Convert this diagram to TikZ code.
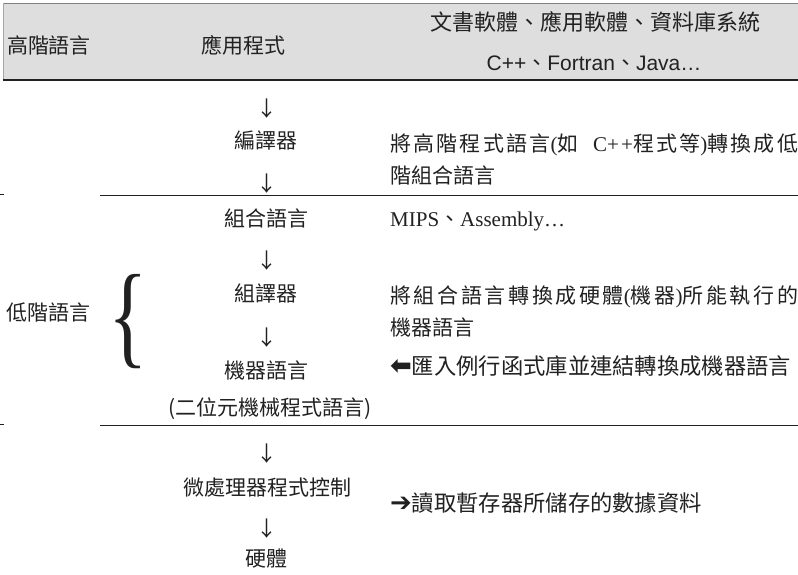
\documentclass[tikz,border=0pt]{standalone}
\usepackage{fontspec}
\setmainfont{Noto Sans CJK TC}
\newfontfamily\tms{Liberation Serif}
\newfontfamily\hlv{Liberation Sans}
\newfontfamily\djv{DejaVu Sans}
\XeTeXlinebreaklocale "zh"
\XeTeXlinebreakskip=0pt plus 3pt
\definecolor{hdr}{gray}{0.87}
\definecolor{ink}{gray}{0.13}
\tikzset{
  txt/.style={anchor=base,font=\fontsize{21}{32}\selectfont,text=ink,inner sep=0pt},
  note/.style={txt,anchor=base west,text width=408pt,align=justify},
  lead/.style={txt,anchor=base west,font=\fontsize{22.3}{32}\selectfont},
  rule/.style={draw=ink,line width=1pt}
}
\newcommand{\dn}{↓}
\newcommand{\bigarr}[1]{{\djv\bfseries\fontsize{26}{32}\selectfont #1}}

\begin{document}
\begin{tikzpicture}[x=1pt,y=-1pt]
\useasboundingbox (0,0) rectangle (798,574);
% header band
\fill[hdr] (3,3) rectangle (798,80);
\draw[gray,line width=0.8pt] (3,3) -- (798,3);
\draw[gray!70,line width=0.6pt] (3,3) -- (3,80);
\draw[rule,line width=1.3pt] (3,80) -- (798,80);
\node[txt] (hi) at (49,53) {高階語言};
\node[txt] (app) at (243,53) {應用程式};
\node[txt,font=\fontsize{22}{32}\selectfont] (soft) at (595,30) {文書軟體、應用軟體、資料庫系統};
\node[txt] (lang) at (594,70) {{\hlv C++}、{\hlv Fortran}、{\hlv Java…}};
% separators
\draw[rule] (100,195) -- (798,195); \draw[rule] (0,194) -- (4,194);
\draw[rule] (100,425) -- (798,425); \draw[rule] (0,424) -- (4,424);
% middle column
\node[txt] (d1) at (267,116) {\dn};
\node[txt] (comp) at (266,148) {編譯器};
\node[txt] (d2) at (267,191) {\dn};
\node[txt] (asm) at (266,226) {組合語言};
\node[txt] (d3) at (267,268) {\dn};
\node[txt] (asmr) at (266,301) {組譯器};
\node[txt] (d4) at (267,345) {\dn};
\node[txt] (mach) at (266,378) {機器語言};
\node[txt] (bin) at (270,415) {(二位元機械程式語言)};
\node[txt] (d5) at (267,461) {\dn};
\node[txt] (micro) at (267,495) {微處理器程式控制};
\node[txt] (d6) at (267,536) {\dn};
\node[txt] (hw) at (266,566) {硬體};
% low level
\node[txt] (lo) at (48,320) {低階語言};
\node[txt,anchor=center,font=\tms\fontsize{114}{114}\selectfont,xscale=0.72] (br) at (128,322) {\{};
% right column
\node[note] (n1) at (390,151) {將高階程式語言{\tms (}如{\tms\ \ C++}程式等{\tms )}轉換成低\linebreak 階組合語言};
\node[txt,anchor=base west] (mips) at (390,226) {{\tms MIPS}、{\tms Assembly…}};
\node[note] (n2) at (390,303) {將組合語言轉換成硬體{\tms (}機器{\tms )}所能執行的\linebreak 機器語言};
\node[lead] (n3) at (390,374) {\bigarr{⬅}匯入例行函式庫並連結轉換成機器語言};
\node[lead] (n4) at (390,511) {\bigarr{➔}讀取暫存器所儲存的數據資料};
\end{tikzpicture}
\end{document}
